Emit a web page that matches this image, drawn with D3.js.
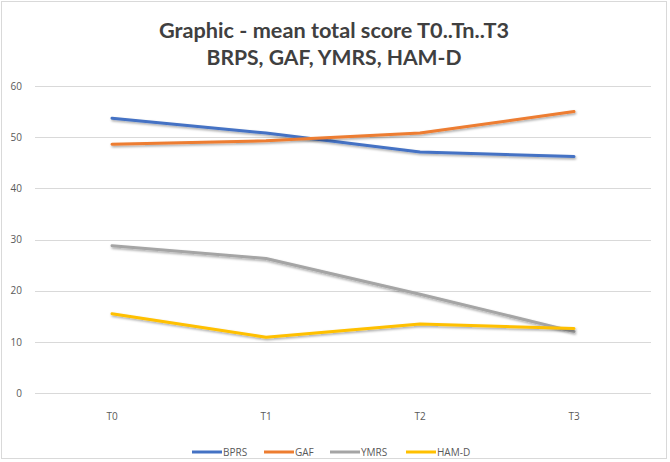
<!DOCTYPE html>
<html>
<head>
<meta charset="utf-8">
<script src="https://cdn.jsdelivr.net/npm/d3@7"></script>
<style>
  body { margin: 0; background: #fff; }
  text { font-family: "Open Sans", "Liberation Sans", sans-serif; }
</style>
</head>
<body>
<script>
// data
var timepoints = ["T0", "T1", "T2", "T3"];
var seriesNames = ["BPRS", "GAF", "YMRS", "HAM-D"];
var bprs = [53.7, 50.8, 47.1, 46.2];
var gaf = [48.6, 49.3, 50.8, 55.0];
var ymrs = [28.8, 26.3, 19.3, 12.0];
var hamd = [15.5, 10.9, 13.5, 12.6];
var yTicks = [0, 10, 20, 30, 40, 50, 60];
var titleLines = ["Graphic - mean total score T0..Tn..T3", "BRPS, GAF, YMRS, HAM-D"];

var colors = ["#4472c4", "#ed7d31", "#a5a5a5", "#ffc000"];
var series = [bprs, gaf, ymrs, hamd];

window.onload = function(){
    var w = 670, h = 462;
    var svg = d3.select("body").append("svg")
        .attr("width", w)
        .attr("height", h);

    // soft shadow under the lines, like the office chart
    var defs = svg.append("defs");
    defs.append("filter")
        .attr("id", "shadow")
        .attr("x", "-10%").attr("y", "-50%")
        .attr("width", "120%").attr("height", "200%")
        .append("feDropShadow")
        .attr("dx", 0.8).attr("dy", 1.5)
        .attr("stdDeviation", 1)
        .attr("flood-color", "#000")
        .attr("flood-opacity", 0.35);

    // chart frame
    svg.append("rect")
        .attr("x", 1.5).attr("y", 1.5)
        .attr("width", w - 5).attr("height", h - 5)
        .style("fill", "#fff")
        .style("stroke", "#d9d9d9");

    var left = 35, right = 651, top = 86, bottom = 393;

    var x = d3.scaleBand()
        .domain(timepoints)
        .range([left, right]);

    var y = d3.scaleLinear()
        .domain([0, 60])
        .range([bottom, top]);

    // gridlines
    svg.append("g").selectAll("line")
        .data(yTicks)
        .enter()
        .append("line")
        .attr("x1", left).attr("x2", right)
        .attr("y1", function(d){ return Math.round(y(d)) + 0.5; })
        .attr("y2", function(d){ return Math.round(y(d)) + 0.5; })
        .style("stroke", "#d9d9d9")
        .style("stroke-width", 1);

    // y axis labels
    var yAxis = d3.axisLeft(y).tickValues(yTicks).tickSize(0).tickPadding(13);
    var ya = svg.append("g")
        .attr("transform", "translate(" + left + ",0)")
        .call(yAxis);
    ya.select(".domain").remove();
    ya.selectAll("text")
        .style("font-size", "10px")
        .style("fill", "#595959");

    // x axis labels
    var xAxis = d3.axisBottom(x).tickSize(0).tickPadding(20);
    var xa = svg.append("g")
        .attr("transform", "translate(0," + bottom + ")")
        .call(xAxis);
    xa.select(".domain").remove();
    xa.selectAll("text")
        .style("font-size", "10px")
        .style("fill", "#595959");

    // lines
    var line = d3.line()
        .x(function(d, i){ return x(timepoints[i]) + x.bandwidth() / 2; })
        .y(function(d){ return y(d); });

    svg.append("g").selectAll("path")
        .data(series)
        .enter()
        .append("path")
        .attr("d", line)
        .attr("filter", "url(#shadow)")
        .style("fill", "none")
        .style("stroke", function(d, i){ return colors[i]; })
        .style("stroke-width", 3)
        .style("stroke-linejoin", "round")
        .style("stroke-linecap", "round");

    // title (narrow office font look: squeeze to the measured width)
    var titleWidth = [350, 255];
    svg.append("g").selectAll("text")
        .data(titleLines)
        .enter()
        .append("text")
        .attr("x", 334)
        .attr("y", function(d, i){ return 38 + i * 27; })
        .attr("text-anchor", "middle")
        .attr("textLength", function(d, i){ return titleWidth[i]; })
        .attr("lengthAdjust", "spacingAndGlyphs")
        .style("font-family", "Lato, 'Open Sans', sans-serif")
        .style("font-size", "21px")
        .style("font-weight", "bold")
        .style("fill", "#404040")
        .text(function(d){ return d; });

    // legend
    var legendX = [192, 264, 330, 406];
    var legend = svg.append("g").selectAll("g")
        .data(seriesNames)
        .enter()
        .append("g")
        .attr("transform", function(d, i){ return "translate(" + legendX[i] + ",452)"; });
    legend.append("line")
        .attr("x1", 0).attr("x2", 30)
        .style("stroke", function(d, i){ return colors[i]; })
        .style("stroke-width", 3);
    legend.append("text")
        .attr("x", 31)
        .attr("dy", "0.35em")
        .style("font-size", "10px")
        .style("fill", "#595959")
        .text(function(d){ return d; });
};
</script>
</body>
</html>
